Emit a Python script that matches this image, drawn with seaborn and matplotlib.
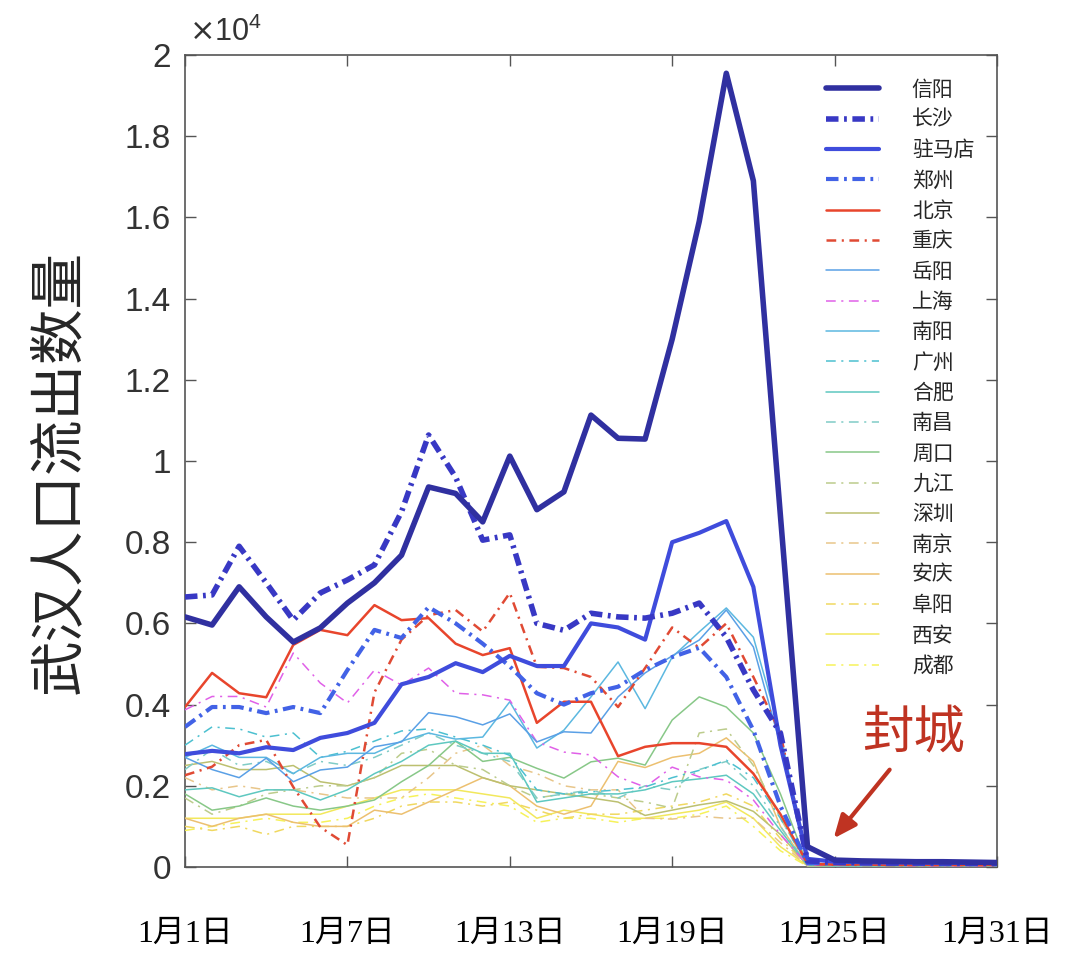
import numpy as np
import pandas as pd
import matplotlib
matplotlib.use("Agg")
import matplotlib.pyplot as plt
import seaborn as sns
from matplotlib.ticker import FuncFormatter

sns.set_style("ticks")
plt.rcParams['font.family'] = ['Liberation Sans', 'Noto Sans CJK SC', 'DejaVu Sans']
plt.rcParams['lines.scale_dashes'] = False

# outflow from Wuhan, people per day, Jan 1 .. Jan 31
days = list(range(1, 32))
cities = ['信阳', '长沙', '驻马店', '郑州', '北京', '重庆', '岳阳', '上海', '南阳', '广州',
          '合肥', '南昌', '周口', '九江', '深圳', '南京', '安庆', '阜阳', '西安', '成都']

xinyang = [6160, 5960, 6900, 6160, 5540, 5890, 6500, 7000, 7680, 9360, 9200, 8500, 10120, 8800,
           9240, 11130, 10560, 10540, 13000, 15900, 19550, 16900, 8650, 500, 170, 150, 140, 130, 130, 120, 110]
changsha = [6650, 6700, 7900, 7000, 6080, 6750, 7070, 7440, 8750, 10640, 9600, 8050, 8180, 6000,
            5830, 6250, 6160, 6130, 6250, 6500, 5660, 4360, 3300, 150, 120, 110, 100, 100, 100, 90, 90]
zhumadian = [2780, 2860, 2800, 2950, 2880, 3180, 3300, 3550, 4500, 4680, 5020, 4800, 5200, 4950,
             4950, 6000, 5900, 5600, 8000, 8230, 8520, 6900, 3000, 200, 130, 120, 110, 110, 100, 100, 100]
zhengzhou = [3450, 3940, 3940, 3790, 3940, 3790, 4850, 5840, 5640, 6400, 6000, 5500, 4940, 4280,
             4000, 4280, 4440, 4850, 5170, 5400, 4680, 3370, 1500, 100, 90, 80, 80, 80, 70, 70, 70]
beijing = [3940, 4780, 4280, 4180, 5470, 5840, 5710, 6450, 6080, 6130, 5500, 5220, 5390, 3550,
           4070, 4070, 2730, 2960, 3050, 3050, 2960, 2300, 1300, 80, 60, 60, 50, 50, 50, 50, 50]
chongqing = [2260, 2470, 3000, 3130, 1970, 980, 540, 4300, 5600, 6200, 6330, 5800, 6750, 4930,
             4900, 4680, 3940, 4900, 5900, 5400, 6000, 4680, 3300, 80, 60, 50, 50, 50, 50, 50, 40]
yueyang = [2700, 2400, 2200, 2680, 2100, 2390, 2460, 2960, 3080, 3800, 3700, 3500, 3770, 3080,
           3330, 3300, 4190, 4780, 5200, 5590, 6330, 5420, 3000, 100, 60, 50, 50, 50, 50, 50, 40]
shanghai = [3870, 4200, 4200, 3940, 5270, 4530, 4040, 4850, 4480, 4900, 4280, 4240, 4110, 3080,
            2830, 2760, 2220, 1970, 2460, 2220, 2140, 1650, 800, 50, 40, 40, 40, 30, 30, 30, 30]
nanyang = [2700, 3000, 2700, 2700, 2300, 2700, 2800, 2800, 3100, 3300, 3150, 3200, 4070, 2930,
           3370, 4190, 5050, 3900, 5170, 5790, 6380, 5660, 3300, 100, 60, 50, 50, 50, 50, 50, 40]
guangzhou = [3000, 3450, 3400, 3200, 3300, 2700, 2850, 3100, 3350, 3400, 3200, 3000, 2750, 1900,
             1800, 1850, 1900, 1970, 2200, 2380, 2630, 2200, 1200, 50, 40, 40, 30, 30, 30, 30, 30]
hefei = [1900, 1950, 1730, 1900, 1900, 1650, 1900, 2300, 2600, 3000, 3100, 2800, 2800, 1600,
         1700, 1800, 1800, 1900, 2100, 2170, 2260, 1800, 900, 40, 30, 30, 30, 30, 30, 30, 30]
nanchang = [2400, 2900, 2500, 2600, 2300, 2600, 2500, 2700, 3000, 3300, 3000, 2800, 2600, 1700,
            1800, 1900, 1700, 2000, 1900, 2400, 2600, 2000, 1000, 40, 30, 30, 30, 30, 30, 30, 30]
zhoukou = [1800, 1400, 1500, 1700, 1500, 1400, 1500, 1650, 2100, 2500, 3100, 2600, 2700, 2430,
           2190, 2590, 2680, 2510, 3620, 4190, 3940, 3300, 1800, 50, 30, 30, 30, 30, 30, 30, 30]
jiujiang = [1700, 1300, 1500, 1800, 1900, 2000, 2000, 2200, 2800, 2900, 2500, 2400, 2000, 1700,
            1800, 1800, 1700, 1600, 1450, 3300, 3400, 2500, 1200, 30, 20, 20, 20, 20, 20, 20, 20]
shenzhen = [2500, 2600, 2400, 2400, 2500, 2100, 2000, 2200, 2500, 2500, 2500, 2200, 2000, 1900,
            1800, 1700, 1600, 1270, 1400, 1530, 1630, 1370, 800, 30, 20, 20, 20, 20, 20, 20, 20]
nanjing = [2200, 1900, 2000, 1900, 1900, 1800, 1700, 1700, 1700, 2200, 2800, 3000, 2500, 2300,
           2000, 1900, 1900, 1200, 1180, 1250, 1200, 1200, 600, 30, 20, 20, 20, 20, 20, 20, 20]
anqing = [1200, 1000, 1200, 1300, 1100, 1000, 1000, 1400, 1300, 1600, 1900, 2200, 2000, 1500,
          1300, 1500, 2600, 2450, 2700, 2800, 3180, 2600, 1000, 30, 20, 20, 20, 20, 20, 20, 20]
fuyang = [1000, 900, 1000, 800, 1000, 1000, 1000, 1200, 1500, 1600, 1600, 1500, 1600, 1400,
          1200, 1300, 1300, 1400, 1500, 1600, 1800, 1500, 700, 30, 20, 20, 20, 20, 20, 20, 20]
xian = [1200, 1200, 1200, 1300, 1300, 1300, 1500, 1700, 1900, 1900, 1900, 1800, 1700, 1200,
        1400, 1300, 1200, 1200, 1300, 1400, 1600, 1200, 500, 30, 20, 20, 20, 20, 20, 20, 20]
chengdu = [900, 1000, 1100, 1200, 1100, 1100, 1200, 1500, 1700, 1800, 1700, 1600, 1500, 1100,
           1200, 1200, 1100, 1200, 1200, 1300, 1500, 1000, 400, 20, 20, 20, 20, 20, 20, 20, 20]

series = [xinyang, changsha, zhumadian, zhengzhou, beijing, chongqing, yueyang, shanghai, nanyang,
          guangzhou, hefei, nanchang, zhoukou, jiujiang, shenzhen, nanjing, anqing, fuyang, xian, chengdu]

colors = ['#3030a0', '#3838c4', '#3f4cdc', '#4262e6', '#e8452c', '#e04a34', '#5aa0e6', '#e060e8',
          '#5cb8e0', '#4cc0d0', '#5ec8c0', '#80ccc6', '#88c888', '#bccc8c', '#bcc070', '#e8c68a',
          '#ecc070', '#f0d860', '#f2e85c', '#f6f25a']
widths = [4.0, 4.0, 3.0, 3.0, 1.8, 1.8] + [1.1] * 14

df = pd.DataFrame({
    'day': np.tile(days, len(cities)),
    'count': np.concatenate(series),
    'city': np.repeat(cities, len(days)),
})

fig = plt.figure(figsize=(10.8, 9.63), dpi=100)
ax = fig.add_axes([0.1713, 0.0997, 0.7518, 0.8432])

for i, city in enumerate(cities):
    sub = df[df['city'] == city]
    if i % 2 == 0:
        ls = '-'
    else:
        ls = (0, (9, 4, 2, 4)) if widths[i] >= 3 else (0, (7, 4, 1.5, 4))
    sns.lineplot(data=sub, x='day', y='count', color=colors[i], lw=widths[i],
                 linestyle=ls, label=city, ax=ax, zorder=30 - i)

ax.set_xlim(1, 31)
ax.set_ylim(0, 20000)
ax.set_xticks([1, 7, 13, 19, 25, 31])
ax.set_xticklabels(['1月1日', '1月7日', '1月13日', '1月19日', '1月25日', '1月31日'],
                   fontfamily=['Liberation Serif', 'Noto Sans CJK SC'], fontsize=23, color='black')
ax.set_yticks(np.arange(0, 20001, 2000))
ax.yaxis.set_major_formatter(FuncFormatter(lambda v, p: f'{v / 1e4:g}'))
ax.tick_params(axis='y', labelsize=24, labelcolor='#333333', pad=10)
ax.tick_params(axis='x', pad=38)
ax.tick_params(direction='in', length=8, width=1, color='#555555', top=True, right=True)
for s in ax.spines.values():
    s.set_color('#555555')
    s.set_linewidth(1.2)

ax.set_xlabel('')
ax.set_ylabel('武汉人口流出数量', fontsize=40, fontfamily=['Noto Sans CJK SC'])
ax.yaxis.set_label_coords(-0.12, 0.486)
ax.text(0.005, 1.008, r'$\times\mathregular{10^{4}}$', transform=ax.transAxes,
        fontsize=22, color='#333333', ha='left', va='bottom')

ax.annotate('', xy=(24.9, 650), xytext=(27.1, 2450),
            arrowprops=dict(arrowstyle='-|>,head_length=1.4,head_width=0.6', color='#bf3322', lw=3))
ax.text(27.9, 3280, '封城', fontsize=37, color='#bf3322', ha='center', va='center',
        fontfamily=['Noto Sans CJK SC'])

leg = ax.legend(loc='upper left', bbox_to_anchor=(0.79, 0.971), frameon=False, fontsize=15,
                handlelength=2.5, handletextpad=1.6, labelspacing=0.40, borderaxespad=0, borderpad=0)
for t in leg.get_texts():
    t.set_fontfamily(['Noto Sans CJK SC'])

fig.savefig('out.png', dpi=100)
